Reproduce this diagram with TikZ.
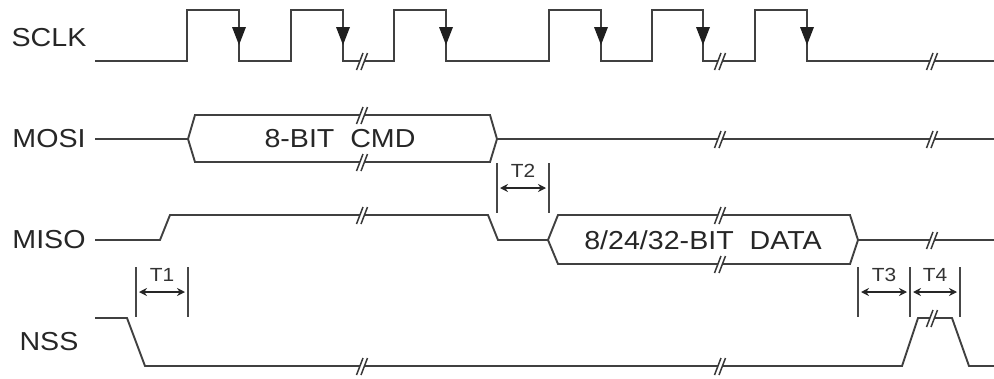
\documentclass[tikz,border=0pt]{standalone}
\usepackage{fontspec}
\setmainfont{Liberation Sans}
\newfontfamily\sigfont[FakeStretch=1.1]{Liberation Sans}
\usetikzlibrary{arrows.meta}

\tikzset{
  wave/.style={line width=1.9pt, draw=black!75},
  sig/.style={font=\sigfont\fontsize{26}{28}\selectfont, inner sep=0pt, text=black!85},
  tlabel/.style={font=\sigfont\fontsize{19}{20}\selectfont, inner sep=0pt, text=black!80},
  tbar/.style={line width=1.6pt, draw=black!72},
  tarrow/.style={{Stealth[length=8pt,width=8pt]}-{Stealth[length=8pt,width=8pt]}, line width=1.5pt, draw=black!85, fill=black!85, shorten <=3pt, shorten >=3pt}
}

% break mark "//" on a line
\newcommand{\wavebreak}[2]{%
  \fill[white] (#1-5,#2+8) -- (#1+1,#2-8) -- (#1+5,#2-8) -- (#1-1,#2+8) -- cycle;
  \draw[line width=1.5pt, draw=black!78] (#1-5.5,#2+9) -- (#1+1,#2-8) (#1-1,#2+9) -- (#1+5.5,#2-8);
}
% falling edge marker on the clock
\newcommand{\clkarrow}[1]{%
  \fill[black!88] (#1-7,27) -- (#1+7,27) -- (#1,45) -- cycle;
}

\begin{document}
\begin{tikzpicture}[x=1pt, y=-1pt]
  \useasboundingbox (0,0) rectangle (994,378);

  % signal names
  \node[sig] (sclk) at (49,38) {SCLK};
  \node[sig] (mosi) at (49,139) {MOSI};
  \node[sig] (miso) at (49,240) {MISO};
  \node[sig] (nss)  at (49,342) {NSS};

  % SCLK
  \draw[wave] (95,61) -- (187,61) |- (239,10) |- (291,61) |- (343,10) |- (394,61)
    |- (446,10) |- (549,61) |- (601,10) |- (652,61) |- (703,10) |- (755,61)
    |- (807,10) |- (994,61);
  \foreach \x in {239,343,446,601,703,807}{
    \clkarrow{\x}
  }
  \wavebreak{362}{61}
  \wavebreak{720}{61}
  \wavebreak{932}{61}

  % MOSI
  \draw[wave] (95,139) -- (188,139);
  \draw[wave] (188,139) -- (195,115) -- (490,115) -- (497,139) -- (490,162) -- (195,162) -- cycle;
  \draw[wave] (497,139) -- (994,139);
  \node[sig] (cmd) at (340,139) {8-BIT\ \ CMD};
  \wavebreak{362}{115}
  \wavebreak{362}{162}
  \wavebreak{720}{139}
  \wavebreak{932}{139}

  % MISO
  \draw[wave] (95,240) -- (160,240) -- (170,215) -- (488,215) -- (498,240) -- (548,240);
  \draw[wave] (548,240) -- (558,215) -- (850,215) -- (858,240) -- (850,264) -- (558,264) -- cycle;
  \draw[wave] (858,240) -- (994,240);
  \node[sig] (data) at (703,240) {8/24/32-BIT\ \ DATA};
  \wavebreak{362}{215}
  \wavebreak{720}{215}
  \wavebreak{720}{264}
  \wavebreak{932}{240}

  % NSS
  \draw[wave] (95,318) -- (127,318) -- (145,366) -- (902,366) -- (918,318)
    -- (952,318) -- (969,366) -- (994,366);
  \wavebreak{362}{366}
  \wavebreak{720}{366}
  \wavebreak{932}{318}

  % timing marks
  \foreach \name/\xa/\xb/\yt in {T1/136/188/267, T2/497/549/163, T3/858/910/267, T4/910/960/267}{
    \draw[tbar] (\xa,\yt) -- (\xa,\yt+50);
    \draw[tbar] (\xb,\yt) -- (\xb,\yt+50);
    \coordinate (\name a) at (\xa,\yt+25);
    \coordinate (\name b) at (\xb,\yt+25);
    \draw[tarrow] (\name a) -- (\name b);
    \node[tlabel] (\name) at ({(\xa+\xb)/2},\yt+8) {\name};
  }
\end{tikzpicture}
\end{document}
